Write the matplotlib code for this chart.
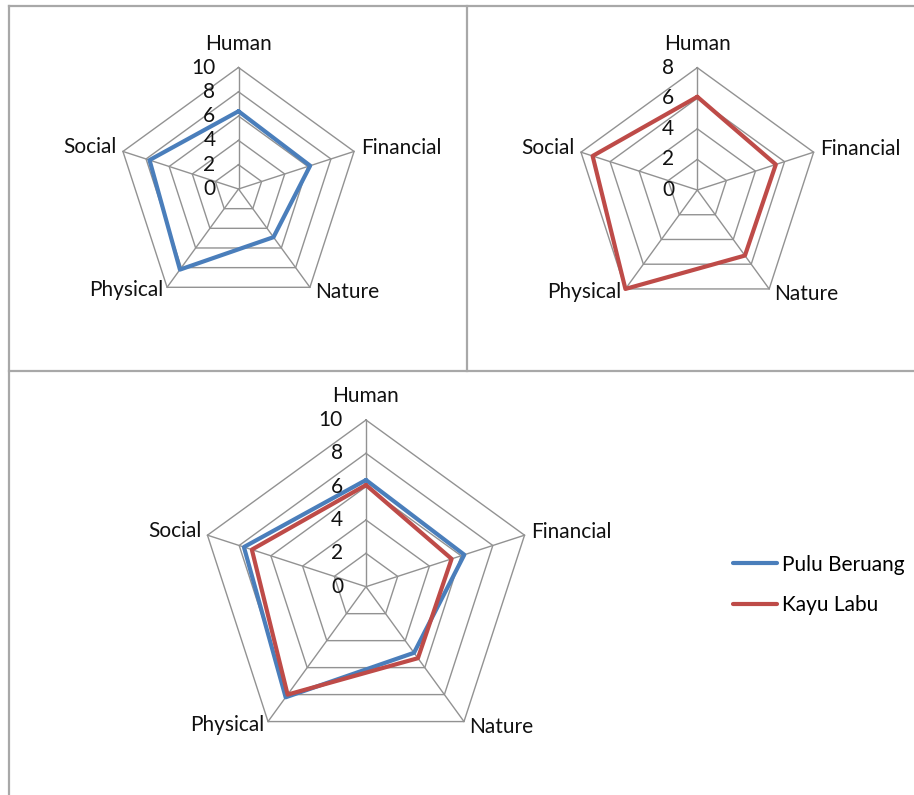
import numpy as np
import matplotlib.pyplot as plt
from matplotlib.lines import Line2D

plt.rcParams['font.family'] = ['Lato', 'DejaVu Sans']

categories = ["Human", "Financial", "Nature", "Physical", "Social"]
pulu_beruang = [6.4, 6.2, 4.9, 8.2, 7.7]
kayu_labu = [6.1, 5.4, 5.3, 8.0, 7.2]
ticks_10 = [0, 2, 4, 6, 8, 10]
ticks_8 = [0, 2, 4, 6, 8]

BLUE = "#4a7ebb"
RED = "#be4b48"
GRID = "#929292"
FS = 15

W, H = 914, 795
fig = plt.figure(figsize=(W / 100, H / 100), dpi=100)

# label offsets in pixels from the outer vertex (ha, va, dx, dy)
lab_pos = [("center", "center", 0, 24),
           ("left", "center", 7, 3),
           ("left", "center", 5, -5),
           ("right", "center", -4, -3),
           ("right", "center", -6, 4)]


def radar(cx, cy, R, rmax, ticks, series):
    ax = fig.add_axes([(cx - R) / W, (H - cy - R) / H, 2 * R / W, 2 * R / H],
                      projection="polar")
    ax.set_theta_offset(np.pi / 2)
    ax.set_theta_direction(-1)
    ax.set_ylim(0, rmax)
    ax.grid(False)
    ax.set_xticks([])
    ax.set_yticks([])
    ax.spines["polar"].set_visible(False)
    ax.patch.set_visible(False)

    theta = np.linspace(0, 2 * np.pi, len(categories), endpoint=False)
    closed = np.append(theta, theta[0])
    for t in ticks[1:]:
        ax.plot(closed, [t] * len(closed), color=GRID, lw=1.0, clip_on=False)
    for th in theta:
        ax.plot([th, th], [0, rmax], color=GRID, lw=1.0, clip_on=False)

    lines = []
    for vals, col, name in series:
        ln, = ax.plot(closed, list(vals) + [vals[0]], color=col, lw=3.0,
                      solid_joinstyle="round", solid_capstyle="round",
                      clip_on=False, label=name, zorder=3)
        lines.append(ln)

    for t in ticks:
        ax.annotate(str(t), xy=(0, t), xytext=(-23, 0), textcoords="offset pixels",
                    ha="right", va="center", fontsize=FS, color="#111111",
                    annotation_clip=False)
    for th, cat, (ha, va, dx, dy) in zip(theta, categories, lab_pos):
        ax.annotate(cat, xy=(th, rmax), xytext=(dx, dy), textcoords="offset pixels",
                    ha=ha, va=va, fontsize=FS, color="#111111",
                    annotation_clip=False)
    return ax, lines


radar(238.5, 189, 121.5, 10, ticks_10, [(pulu_beruang, BLUE, "Pulu Beruang")])
radar(697.3, 190, 122.3, 8, ticks_8, [(kayu_labu, RED, "Kayu Labu")])
ax3, lines3 = radar(366, 586.7, 166.7, 10, ticks_10,
                    [(pulu_beruang, BLUE, "Pulu Beruang"),
                     (kayu_labu, RED, "Kayu Labu")])

fig.legend(handles=lines3, loc="center left", bbox_to_anchor=(733 / W, 1 - 585 / H),
           frameon=False, fontsize=FS, handlelength=2.1, handletextpad=0.25,
           labelspacing=1.0, borderpad=0, borderaxespad=0)

# panel borders
border = dict(color="#a8a8a8", lw=1.6, transform=fig.transFigure)
fig.add_artist(Line2D([9 / W, 1], [1 - 6 / H, 1 - 6 / H], **border))
fig.add_artist(Line2D([9 / W, 9 / W], [1 - 6 / H, 0], **border))
fig.add_artist(Line2D([467 / W, 467 / W], [1 - 6 / H, 1 - 371 / H], **border))
fig.add_artist(Line2D([9 / W, 1], [1 - 371 / H, 1 - 371 / H], **border))

fig.savefig("out.png", dpi=100)
